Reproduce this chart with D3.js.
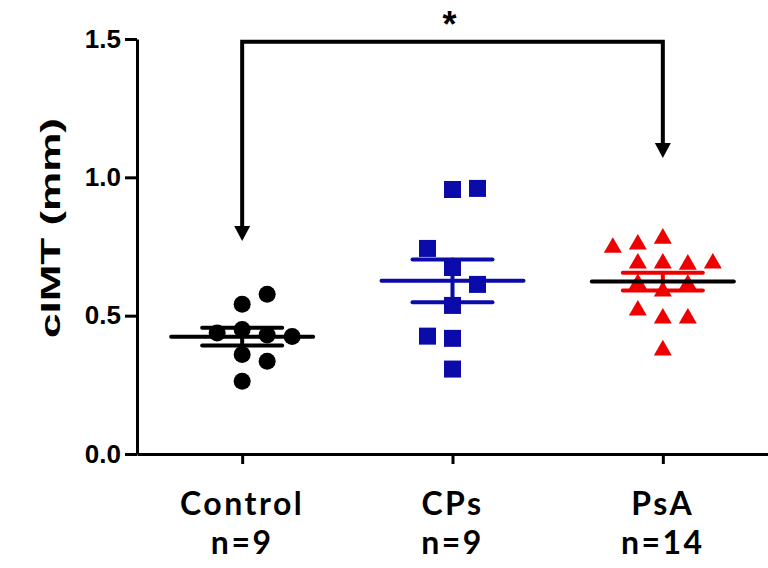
<!DOCTYPE html>
<html>
<head>
<meta charset="utf-8">
<script src="https://cdn.jsdelivr.net/npm/d3@7"></script>
<style>
  html, body { margin: 0; padding: 0; background: #fff; }
  svg { display: block; }
</style>
</head>
<body>
<div id="chart"></div>
<script>
// data
var categories = ["Control", "CPs", "PsA"];
var groupSizes = ["n=9", "n=9", "n=14"];
var controlVals = [0.541, 0.577, 0.36, 0.263, 0.45, 0.437, 0.335, 0.43, 0.425];
var cpsVals = [0.956, 0.96, 0.674, 0.743, 0.613, 0.537, 0.418, 0.426, 0.307];
var psaVals = [0.689, 0.685, 0.689, 0.689, 0.779, 0.758, 0.746, 0.588, 0.615, 0.612, 0.49, 0.519, 0.49, 0.375];
var yTicks = [0.0, 0.5, 1.0, 1.5];
var sigLabel = "*";

var width = 768;
var height = 568;

var groups = [
  {name: "Control", vals: controlVals, color: "#000000", meanColor: "#000000", shape: d3.symbolCircle, size: 227, h: 17},
  {name: "CPs", vals: cpsVals, color: "#0b0baa", meanColor: "#0b0baa", shape: d3.symbolSquare, size: 289, h: 17},
  {name: "PsA", vals: psaVals, color: "#ee0000", meanColor: "#000000", shape: d3.symbolTriangle, size: 140, h: 15.6}
];

var svg = d3.select('#chart')
  .append('svg')
  .attr('width', width)
  .attr('height', height);

var x = d3.scalePoint()
  .domain(categories)
  .range([137, 768])
  .padding(0.5);

var y = d3.scaleLinear()
  .domain([0, 1.5])
  .range([454, 39]);

// axes
var yAxis = svg.append('g')
  .attr('transform', 'translate(137,0)')
  .call(d3.axisLeft(y).tickValues(yTicks).tickFormat(d3.format('.1f')).tickSize(12).tickSizeOuter(0).tickPadding(4));

var xAxis = svg.append('g')
  .attr('transform', 'translate(0,454)')
  .call(d3.axisBottom(x).tickSize(10).tickSizeOuter(0).tickFormat(''));

svg.selectAll('.domain, .tick line')
  .attr('stroke', '#000')
  .attr('stroke-width', 3);

yAxis.selectAll('text')
  .attr('fill', '#000')
  .style('font-family', '"Liberation Sans", Arial, sans-serif')
  .style('font-weight', 'bold')
  .style('font-size', '26px');

// category labels, two lines in one text each
var catLabels = svg.append('g').selectAll('text')
  .data(categories)
  .enter().append('text')
  .attr('text-anchor', 'middle')
  .style('font-family', 'Lato, "Open Sans", sans-serif')
  .style('font-weight', 'bold')
  .style('font-size', '32px')
  .style('letter-spacing', '2.5px');

catLabels.append('tspan')
  .attr('x', function(d) { return x(d); })
  .attr('y', 515)
  .text(function(d) { return d; });
catLabels.append('tspan')
  .attr('x', function(d) { return x(d); })
  .attr('dy', 39)
  .text(function(d, i) { return groupSizes[i]; });

// y axis title
svg.append('text')
  .attr('transform', 'translate(60,228) rotate(-90)')
  .attr('text-anchor', 'middle')
  .attr('textLength', 220)
  .attr('lengthAdjust', 'spacingAndGlyphs')
  .style('font-family', '"Liberation Sans", Arial, sans-serif')
  .style('font-weight', 'bold')
  .style('font-size', '28px')
  .text('cIMT (mm)');

// simple swarm: same-slot points closer than the symbol height get pushed sideways
function swarm(vals, thr, step) {
  var placed = [];
  var side = 1;
  vals.forEach(function(v) {
    var py = y(v);
    for (var k = 0; k < 20; k++) {
      var cands = k === 0 ? [0] : [side * k, -side * k];
      var free = cands.find(function(c) {
        return !placed.some(function(p) { return p.slot === c && Math.abs(p.py - py) < thr; });
      });
      if (free !== undefined) {
        placed.push({v: v, py: py, slot: free, dx: free * step});
        if (free !== 0) side = -side;
        break;
      }
    }
  });
  return placed;
}

groups.forEach(function(g) {
  var pts = swarm(g.vals, g.h + 3, 25);
  var cx = x(g.name);

  svg.append('g').selectAll('path')
    .data(pts)
    .enter().append('path')
    .attr('d', d3.symbol().type(g.shape).size(g.size))
    .attr('transform', function(d) { return 'translate(' + (cx + d.dx) + ',' + d.py + ')'; })
    .attr('fill', g.color);

  var m = d3.mean(g.vals);
  var sem = d3.deviation(g.vals) / Math.sqrt(g.vals.length);

  var bars = svg.append('g').attr('stroke-linecap', 'round');
  // SEM whiskers
  bars.append('line')
    .attr('x1', cx).attr('x2', cx)
    .attr('y1', y(m + sem)).attr('y2', y(m - sem))
    .attr('stroke', g.color).attr('stroke-width', 4);
  [m + sem, m - sem].forEach(function(v) {
    bars.append('line')
      .attr('x1', cx - 40).attr('x2', cx + 40)
      .attr('y1', y(v)).attr('y2', y(v))
      .attr('stroke', g.color).attr('stroke-width', 4);
  });
  // mean
  bars.append('line')
    .attr('x1', cx - 71).attr('x2', cx + 71)
    .attr('y1', y(m)).attr('y2', y(m))
    .attr('stroke', g.meanColor).attr('stroke-width', 4);
});

// significance bracket with arrows
var bracketTop = 1.49;
var arrowEnds = [0.77, 1.07];
var xl = x('Control'), xr = x('PsA');
svg.append('path')
  .attr('d', 'M' + xl + ',' + (y(arrowEnds[0]) - 12) + 'V' + y(bracketTop) + 'H' + xr + 'V' + (y(arrowEnds[1]) - 12))
  .attr('fill', 'none')
  .attr('stroke', '#000')
  .attr('stroke-width', 4);

[[xl, arrowEnds[0]], [xr, arrowEnds[1]]].forEach(function(a) {
  var tx = a[0], ty = y(a[1]);
  svg.append('path')
    .attr('d', 'M' + (tx - 8) + ',' + (ty - 15) + 'L' + (tx + 8) + ',' + (ty - 15) + 'L' + tx + ',' + ty + 'Z')
    .attr('fill', '#000');
});

svg.append('text')
  .attr('x', (xl + xr) / 2 - 3)
  .attr('y', 37)
  .attr('text-anchor', 'middle')
  .style('font-family', '"Liberation Sans", Arial, sans-serif')
  .style('font-weight', 'bold')
  .style('font-size', '36px')
  .text(sigLabel);
</script>
</body>
</html>
